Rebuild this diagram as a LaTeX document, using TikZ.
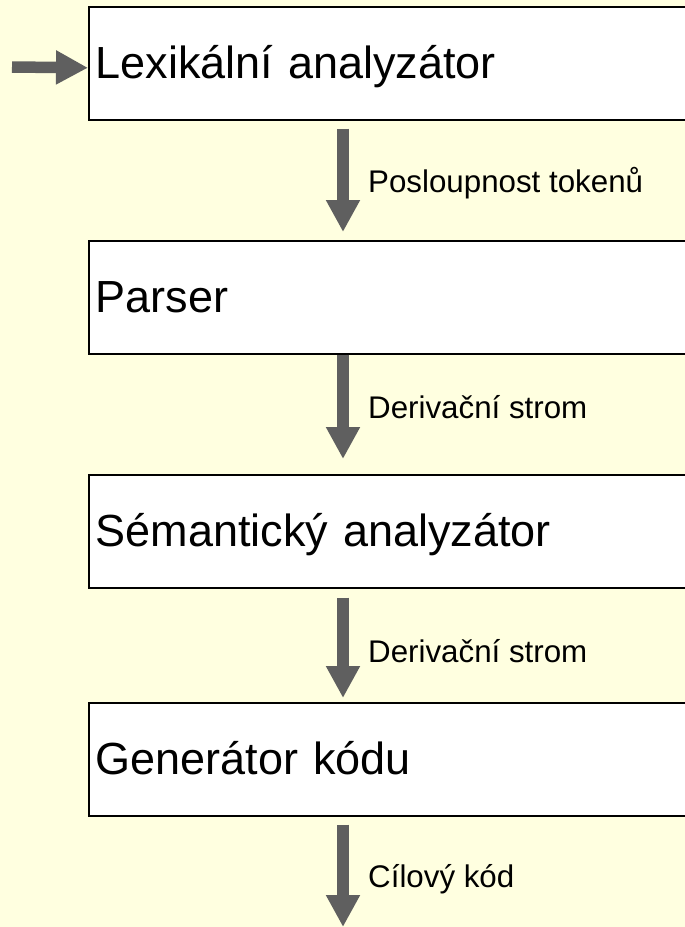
\documentclass[tikz,border=0pt]{standalone}
\usepackage{fontspec}
\setmainfont{Liberation Sans}
\usetikzlibrary{arrows.meta}
\definecolor{bgyellow}{HTML}{FFFFE0}
\definecolor{flowgray}{HTML}{5F5F5F}
\begin{document}
\begin{tikzpicture}[x=1pt,y=-1pt,
  stage/.style={draw=black, line width=1.6pt, fill=white, anchor=north west,
    minimum width=620pt, minimum height=113pt, inner xsep=7pt, inner ysep=0pt,
    text width=606pt, align=left, text height=32pt, text depth=1pt,
    font=\fontsize{45}{45}\selectfont},
  flow/.style={draw=flowgray, line width=11.5pt,
    -{Triangle[length=32pt,width=32pt]}},
  flowlabel/.style={anchor=base west, inner sep=0pt,
    font=\fontsize{31.3}{31.3}\selectfont}]
  % page and background
  \useasboundingbox (0,0) rectangle (685,927);
  \fill[bgyellow] (0,0) rectangle (685,927);
  \clip (0,0) rectangle (685,927);

  % compiler stages
  \node[stage] (lex) at (88,6)   {Lexikální analyzátor};
  \node[stage] (par) at (88,240) {Parser};
  \node[stage] (sem) at (88,474) {Sémantický analyzátor};
  \node[stage] (gen) at (88,702) {Generátor kódu};

  % input and output ends
  \coordinate (input) at (12,67);
  \coordinate (output) at (343,927);

  % data flow between stages (shifts are in page direction: negative = down)
  \draw[flow] (input) -- ([yshift=-4.5pt]lex.west);
  \draw[flow] ([xshift=255pt,yshift=-8pt]lex.south west)
           -- ([xshift=255pt,yshift=8pt]par.north west);
  \draw[flow] ([xshift=255pt]par.south west)
           -- ([xshift=255pt,yshift=15pt]sem.north west);
  \draw[flow] ([xshift=255pt,yshift=-9pt]sem.south west)
           -- ([xshift=255pt,yshift=4pt]gen.north west);
  \draw[flow] ([xshift=255pt,yshift=-8pt]gen.south west) -- (output);

  % labels of the passed data
  \node[flowlabel] (l1) at (368,192) {Posloupnost tokenů};
  \node[flowlabel] (l2) at (368,418) {Derivační strom};
  \node[flowlabel] (l3) at (368,662) {Derivační strom};
  \node[flowlabel] (l4) at (368,887) {Cílový kód};
\end{tikzpicture}
\end{document}
